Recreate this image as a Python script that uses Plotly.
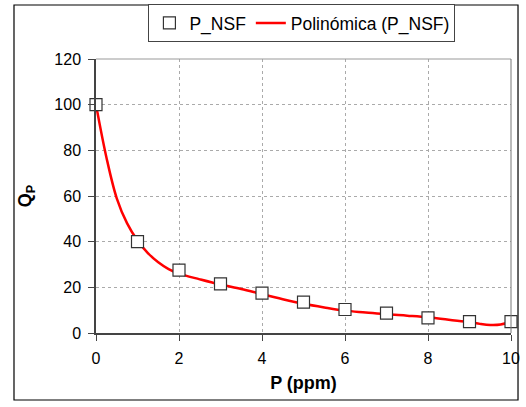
import plotly.graph_objects as go

# Observed data (P_NSF)
p_obs = [0, 1, 2, 3, 4, 5, 6, 7, 8, 9, 10]
q_obs = [100, 40, 27.5, 21.5, 17.5, 13.5, 10.3, 8.7, 6.6, 5.0, 5.0]

# Polynomial trend line
p_fit = [0, 0.25, 0.5, 0.75, 1.0, 1.25, 1.5, 1.75, 2.0, 2.5, 3.0, 3.5, 4.0, 4.5, 5.0,
         5.5, 6.0, 6.5, 7.0, 7.5, 8.0, 8.5, 9.0, 9.25, 9.5, 9.75, 10.0]
q_fit = [100, 77, 59, 48, 40.5, 35, 31, 28, 26, 23.5, 21.2, 19.3, 17.0, 14.8, 12.8,
         11.2, 9.8, 9.0, 8.2, 7.6, 6.9, 5.8, 4.8, 4.0, 3.5, 3.7, 5.0]

x_ticks = [0, 2, 4, 6, 8, 10]
y_ticks = [0, 20, 40, 60, 80, 100, 120]

fig = go.Figure()
fig.add_trace(go.Scatter(
    x=p_fit, y=q_fit, mode="lines", name="Polinómica (P_NSF)",
    line=dict(color="#ff0000", width=2.5, shape="spline"),
    cliponaxis=False,
))
fig.add_trace(go.Scatter(
    x=p_obs, y=q_obs, mode="markers", name="P_NSF",
    marker=dict(symbol="square", size=12, color="white",
                line=dict(color="#333333", width=1.2)),
    cliponaxis=False,
))

fig.update_layout(
    width=526, height=407,
    margin=dict(l=96, r=15, t=59, b=74, autoexpand=False),
    paper_bgcolor="white", plot_bgcolor="white",
    font=dict(family="Liberation Sans, Arial, sans-serif", size=16, color="black"),
    showlegend=True,
    legend=dict(orientation="h", xref="container", yref="container",
                x=0.574, xanchor="center", y=0.99, yanchor="top",
                bordercolor="#444444", borderwidth=1, bgcolor="white",
                font=dict(size=17.5), traceorder="reversed"),
    xaxis=dict(range=[0, 10], tickvals=x_ticks, showgrid=True, automargin=False,
               gridcolor="#aaaaaa", griddash="dot", gridwidth=1,
               showline=True, linecolor="#444444", linewidth=1.5,
               ticks="outside", ticklen=6, tickcolor="#444444",
               ticklabelstandoff=4, zeroline=False,
               title=dict(text="<b>P (ppm)</b>", font=dict(size=18), standoff=10)),
    yaxis=dict(range=[0, 120], tickvals=y_ticks, showgrid=True, automargin=False,
               gridcolor="#aaaaaa", griddash="dot", gridwidth=1,
               showline=True, linecolor="#444444", linewidth=1.5,
               ticks="outside", ticklen=6, tickcolor="#444444",
               ticklabelstandoff=4, zeroline=False,
               title=dict(text="<b>Q<sub>P</sub></b>", font=dict(size=18), standoff=18)),
    shapes=[
        dict(type="line", xref="paper", yref="paper", x0=0, x1=1, y0=1, y1=1,
             line=dict(color="#999999", width=1)),
        dict(type="line", xref="paper", yref="paper", x0=1, x1=1, y0=0, y1=1,
             line=dict(color="#777777", width=1)),
        dict(type="rect", xref="paper", yref="paper", x0=-0.1976, x1=1.0169,
             y0=-0.2445, y1=1.197, line=dict(color="black", width=1.2), layer="below"),
    ],
)

fig.write_html("out.html",
               config={"displayModeBar": False},
               post_script="document.body.style.margin='0';document.body.style.overflow='hidden';")
